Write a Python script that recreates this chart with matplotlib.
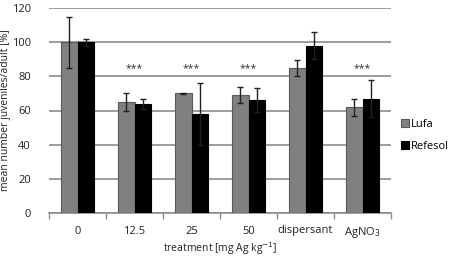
import matplotlib
matplotlib.use("Agg")
import matplotlib.pyplot as plt
import numpy as np

categories = ["0", "12.5", "25", "50", "dispersant", "AgNO$_3$"]
lufa = [100, 65, 70, 69, 85, 62]
lufa_err = [15, 5, 0.4, 4.6, 4.6, 5]
refesol = [100, 64, 58, 66, 98, 67]
refesol_err = [2, 3, 18, 7, 8, 11]
significant = ["", "***", "***", "***", "", "***"]
yticks = [0, 20, 40, 60, 80, 100, 120]

plt.rcParams['font.family'] = ['Open Sans', 'DejaVu Sans']

fig = plt.figure(figsize=(4.59, 2.57), dpi=100)
ax = fig.add_axes([49/459, 1 - 213/257, 342/459, 205/257])

x = np.arange(len(categories))
w = 0.29
ax.bar(x - w/2, lufa, w, color="#808080", edgecolor="#5a5a5a", linewidth=0.8,
       yerr=lufa_err, error_kw=dict(ecolor="#202020", elinewidth=1, capsize=2.5, capthick=1),
       label="Lufa", zorder=3)
ax.bar(x + w/2, refesol, w, color="black", edgecolor="black", linewidth=0.8,
       yerr=refesol_err, error_kw=dict(ecolor="#202020", elinewidth=1, capsize=2.5, capthick=1),
       label="Refesol", zorder=3)

for xi, s in zip(x, significant):
    if s:
        ax.text(xi, 84.5, s, ha="center", va="center", fontsize=7.5, color="#333333", zorder=4)

ax.set_xlim(-0.5, len(categories) - 0.5)
ax.set_ylim(0, 120)
ax.set_yticks(yticks)
ax.yaxis.grid(True, color="#8c8c8c", linewidth=1.2, zorder=0)
ax.set_axisbelow(True)
for sp in ["top", "right", "left"]:
    ax.spines[sp].set_visible(False)
ax.spines["bottom"].set_color("#8c8c8c")
ax.spines["bottom"].set_linewidth(1.2)
ax.tick_params(axis="y", length=0, labelsize=8, pad=13, colors="#222222")
ax.set_xticks(x)
ax.set_xticklabels(categories, fontsize=8, color="#222222")
ax.tick_params(axis="x", length=0, pad=9)
ax.set_xticks(np.arange(len(categories) + 1) - 0.5, minor=True)
ax.tick_params(axis="x", which="minor", length=4, color="#8c8c8c", width=1)

ax.set_ylabel("mean number juveniles/adult [%]", fontsize=7.5, color="#222222")
ax.yaxis.set_label_coords(-0.11, 0.5)
ax.set_xlabel("treatment [mg Ag kg$^{-1}$]", fontsize=7.5, color="#222222")
ax.xaxis.set_label_coords(0.5, -0.135)

ax.legend(loc="center left", bbox_to_anchor=(1.0, 0.38), frameon=False, fontsize=8,
          handlelength=0.7, handleheight=0.7, handletextpad=0.2, labelspacing=1.0)

fig.savefig("out.png", dpi=100)
